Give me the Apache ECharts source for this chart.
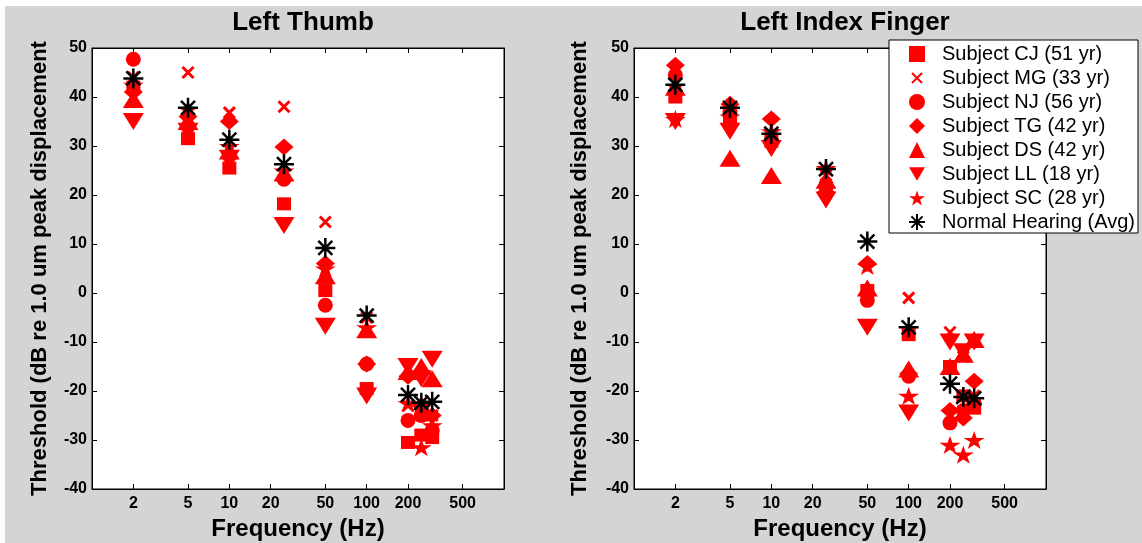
<!DOCTYPE html>
<html>
<head>
<meta charset="utf-8">
<script src="https://cdn.jsdelivr.net/npm/echarts@6/dist/echarts.min.js"></script>
<style>
  html, body { margin: 0; padding: 0; background: #fff; }
  #chart { width: 1142px; height: 543px; }
</style>
</head>
<body>
<div id="chart"></div>
<script>
// test frequencies (Hz) and axis tick values
const freqs = [2, 5, 10, 25, 50, 100, 200, 250, 300];
const freqTicks = [2, 5, 10, 20, 50, 100, 200, 500];

const names = [
  'Subject CJ (51 yr)', 'Subject MG (33 yr)', 'Subject NJ (56 yr)', 'Subject TG (42 yr)',
  'Subject DS (42 yr)', 'Subject LL (18 yr)', 'Subject SC (28 yr)', 'Normal Hearing (Avg)'
];

// Left Thumb thresholds (dB)
const thumbCJ = [42, 31.5, 25.5, 18.2, 0.5, -19.5, -30.5, -29, -29.5];
const thumbMG = [44, 45, 36.8, 38, 14.5, -5, -23, -25, -25];
const thumbNJ = [47.7, 34, 28, 23.2, -2.5, -14.5, -26, -25, -28];
const thumbTG = [41, 36, 35, 29.8, 6, -14.5, -17, -23, -25];
const thumbDS = [39.5, 35, 29, 24.5, 3.5, -7.5, -16, -15, -17.5];
const thumbLL = [35, 33, 27.5, 13.8, -6.8, -21, -15, -17.5, -13.5];
const thumbSC = [42.5, 37.5, 30, 25, 5, -7, -22.5, -31.5, -27];
const thumbAvg = [43.8, 37.8, 31.3, 26.3, 9.2, -4.6, -20.8, -22.4, -22.2];

// Left Index Finger thresholds (dB)
const indexCJ = [40, 35, 31, 21.5, 0.5, -8.5, -15, -21, -23.5];
const indexMG = [43, 37, 32, 24, 0.5, -1, -8, -13, -21];
const indexNJ = [44.5, 37, 31, 22, -1.5, -17, -26.5, -24, -22.5];
const indexTG = [46.5, 38.5, 35.5, 20.5, 6, -16.5, -24, -25.5, -18];
const indexDS = [42, 27.5, 24, 23, 1, -15.5, -15, -12.5, -9.5];
const indexLL = [35, 33, 29.5, 19, -7, -24.5, -10, -12, -10];
const indexSC = [35.5, 36, 33, 25.5, 5.5, -21, -31, -33, -30];
const indexAvg = [42.5, 37.8, 32.5, 25.3, 10.5, -7, -18.5, -21.2, -21.5];

const FONT = "'Liberation Sans', Arial, Helvetica, sans-serif";
const RED = '#ff0000';

const starPath = 'path://M10,0L12.245,6.91L19.511,6.91L13.633,11.18L15.878,18.09L10,13.82L4.122,18.09L6.367,11.18L0.489,6.91L7.755,6.91Z';
const markers = [
  { symbol: 'rect', size: [14, 13], style: { color: RED } },
  { symbol: 'path://M-3,-3M13,13M0,0L10,10M10,0L0,10', size: 17.6, style: { color: RED, borderColor: RED, borderWidth: 3 } },
  { symbol: 'circle', size: 15, style: { color: RED } },
  { symbol: 'diamond', size: [19, 17], style: { color: RED } },
  { symbol: 'triangle', size: [21, 17], style: { color: RED } },
  { symbol: 'path://M0,0L20,0L10,17Z', size: [21, 17], style: { color: RED } },
  { symbol: starPath, size: [21, 18], style: { color: RED } },
  { symbol: 'path://M10,0L10,20M0,10L20,10M3,3L17,17M17,3L3,17', size: 20, style: { color: '#000', borderColor: '#000', borderWidth: 2.5 } }
];

function makeSeries(gi, sets) {
  return sets.map((vals, i) => ({
    name: names[i],
    type: 'scatter',
    xAxisIndex: gi * 2,
    yAxisIndex: gi * 2,
    symbol: markers[i].symbol,
    symbolSize: markers[i].size,
    itemStyle: Object.assign({ opacity: 1 }, markers[i].style),
    emphasis: { disabled: true },
    z: 3,
    data: freqs.map((f, k) => [f, vals[k]])
  }));
}

const axisTxt = { color: '#000', fontWeight: 'bold', fontSize: 16, fontFamily: FONT };
const nameTxt = { color: '#000', fontWeight: 'bold', fontSize: 22, fontFamily: FONT };

function xAxes(gi) {
  const base = {
    type: 'log', logBase: 10, gridIndex: gi, min: 1, max: 1000,
    axisLine: { show: true, onZero: false, lineStyle: { color: '#000', width: 1 } },
    axisTick: { show: true, inside: true, length: 5, customValues: freqTicks, lineStyle: { color: '#000' } },
    splitLine: { show: false },
    minorTick: { show: false },
    minorSplitLine: { show: false }
  };
  return [
    Object.assign({}, base, {
      position: 'bottom',
      axisLabel: Object.assign({ customValues: freqTicks, margin: 7, formatter: v => String(v) }, axisTxt),
      name: 'Frequency (Hz)', nameLocation: 'middle', nameGap: 19,
      nameTextStyle: Object.assign({}, nameTxt, { fontSize: 24 })
    }),
    Object.assign({}, base, { position: 'top', axisLabel: { show: false } })
  ];
}

function yAxes(gi, gap) {
  const base = {
    type: 'value', gridIndex: gi, min: -40, max: 50, interval: 10,
    axisLine: { show: true, onZero: false, lineStyle: { color: '#000', width: 1 } },
    axisTick: { show: true, inside: true, length: 5, lineStyle: { color: '#000' } },
    splitLine: { show: false }
  };
  return [
    Object.assign({}, base, {
      position: 'left',
      axisLabel: Object.assign({ margin: 5 }, axisTxt),
      name: 'Threshold (dB re 1.0 um peak displacement', nameLocation: 'middle', nameGap: gap,
      nameTextStyle: nameTxt
    }),
    Object.assign({}, base, { position: 'right', axisLabel: { show: false } })
  ];
}

const chart = echarts.init(document.getElementById('chart'), null, { renderer: 'canvas' });
chart.setOption({
  animation: false,
  backgroundColor: '#fff',
  textStyle: { fontFamily: FONT },
  graphic: [{
    type: 'rect', z: -10, silent: true,
    shape: { x: 5, y: 6, width: 1137, height: 537 },
    style: { fill: '#d4d4d4' }
  }],
  title: [
    { text: 'Left Thumb', left: 298, top: 5, textAlign: 'center',
      textStyle: { color: '#000', fontWeight: 'bold', fontSize: 26, fontFamily: FONT } },
    { text: 'Left Index Finger', left: 840, top: 5, textAlign: 'center',
      textStyle: { color: '#000', fontWeight: 'bold', fontSize: 26, fontFamily: FONT } }
  ],
  grid: [
    { left: 92, top: 48, width: 412, height: 441, show: true, backgroundColor: '#fff',
      borderColor: '#000', borderWidth: 1, containLabel: false, outerBoundsMode: 'none' },
    { left: 634, top: 48, width: 412, height: 441, show: true, backgroundColor: '#fff',
      borderColor: '#000', borderWidth: 1, containLabel: false, outerBoundsMode: 'none' }
  ],
  xAxis: xAxes(0).concat(xAxes(1)),
  yAxis: yAxes(0, 41).concat(yAxes(1, 43)),
  legend: {
    orient: 'vertical', left: 889, top: 40, z: 20,
    data: names,
    backgroundColor: '#fff', borderColor: '#000', borderWidth: 1,
    padding: [4, 3, 1, 19],
    itemWidth: 16, itemHeight: 16, itemGap: 4,
    selectedMode: false,
    textStyle: { color: '#000', fontSize: 20, lineHeight: 20, fontFamily: FONT, padding: [0, 0, 0, 12] }
  },
  series: makeSeries(0, [thumbCJ, thumbMG, thumbNJ, thumbTG, thumbDS, thumbLL, thumbSC, thumbAvg])
    .concat(makeSeries(1, [indexCJ, indexMG, indexNJ, indexTG, indexDS, indexLL, indexSC, indexAvg]))
});
</script>
</body>
</html>
